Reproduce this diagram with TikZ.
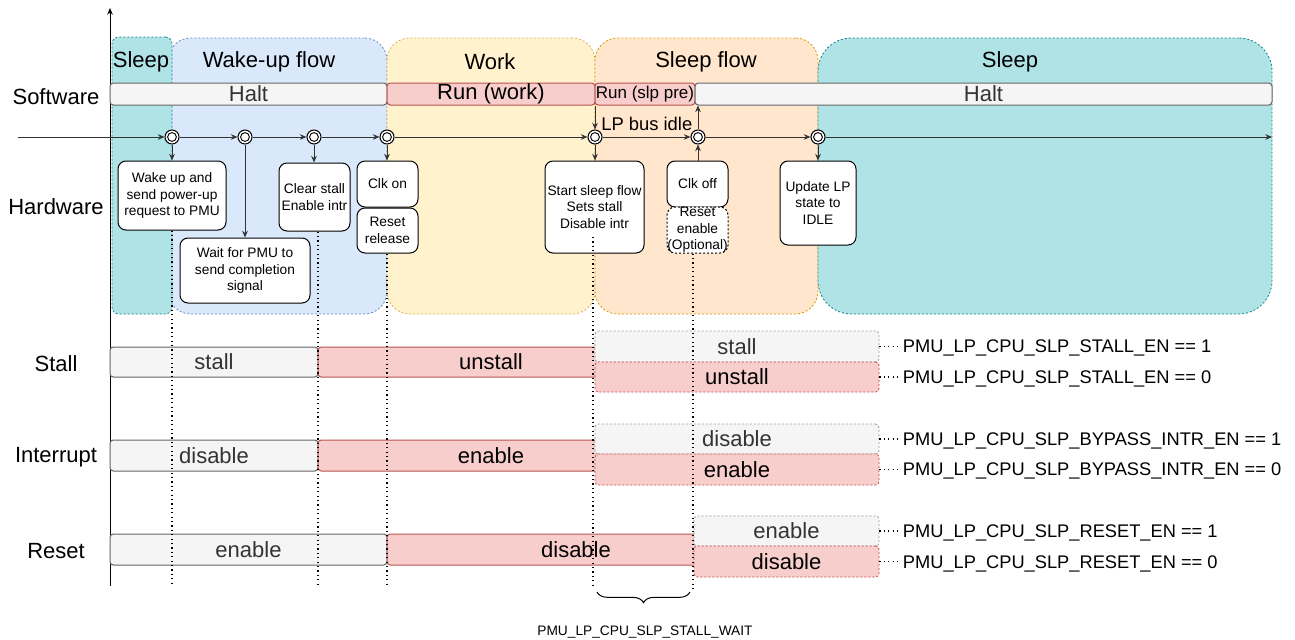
\documentclass[tikz,border=0pt]{standalone}
\usepackage{fontspec}
\setmainfont{Liberation Sans}
\usetikzlibrary{arrows.meta,decorations.pathreplacing}

\definecolor{tealfill}{HTML}{B0E3E6}\definecolor{tealline}{HTML}{0E8088}
\definecolor{bluefill}{HTML}{DAE8FC}\definecolor{blueline}{HTML}{6C8EBF}
\definecolor{yelfill}{HTML}{FFF2CC}\definecolor{yelline}{HTML}{D6B656}
\definecolor{orafill}{HTML}{FFE6CC}\definecolor{oraline}{HTML}{D79B00}
\definecolor{grayfill}{HTML}{F5F5F5}\definecolor{grayline}{HTML}{666666}\definecolor{graytext}{HTML}{333333}
\definecolor{redfill}{HTML}{F8CECC}\definecolor{redline}{HTML}{B85450}

\begin{document}
\begin{tikzpicture}[x=0.75pt, y=-0.75pt, >={Stealth[length=5pt,width=4.2pt]},
	every node/.style={inner sep=0pt},
	span/.style n args={4}{minimum width={(#3-#1)*0.75pt}, minimum height={(#4-#2)*0.75pt},
		at={({(#1+#3)/2},{(#2+#4)/2})}},
	big/.style={font=\fontsize{16.5}{19}\selectfont},
	phase/.style={draw, dash pattern=on 1.5pt off 1.5pt, line width=0.6pt, rounded corners=17pt},
	bar/.style={draw, line width=0.75pt, rounded corners=2.5pt, font=\fontsize{16.5}{19}\selectfont},
	opt/.style={bar, dash pattern=on 1.5pt off 1.5pt, line width=0.6pt},
	greybar/.style={fill=grayfill, draw=grayline, text=graytext},
	redbar/.style={fill=redfill, draw=redline},
	hw/.style={draw, fill=white, line width=0.75pt, rounded corners=6pt, align=center, font=\fontsize{10.3}{12.5}\selectfont},
	evt/.style={circle, draw, fill=white, minimum size=10.5pt, line width=0.8pt,
		path picture={\draw[line width=0.7pt] (path picture bounding box.center) circle (3.3pt);}},
	flow/.style={->, draw=black!80, line width=0.75pt},
	guide/.style={draw=black, line width=0.9pt, dash pattern=on 0.9pt off 2.4pt},
	reg/.style={anchor=base west, inner sep=2pt, font=\fontsize{13.7}{16}\selectfont}]
	\useasboundingbox (0,0) rectangle (1295,639);

	% phases
	\node[phase, span={168}{38}{387}{314}, fill=bluefill, draw=blueline] (wake) {};
	\node[phase, span={387}{38}{595}{314}, fill=yelfill, draw=yelline] (work) {};
	\node[phase, span={595}{38}{818}{314}, fill=orafill, draw=oraline] (slpflow) {};
	\node[phase, span={818}{38}{1272}{314}, fill=tealfill, draw=tealline, rounded corners=25pt] (sleepR) {};
	\node[phase, span={112}{37}{172}{314}, fill=tealfill, draw=tealline, rounded corners=5pt] (sleepL) {};
	\node[big] (tSleepL) at (141,62) {Sleep};
	\node[big] (tWake) at (269,62) {Wake-up flow};
	\node[big] (tWork) at (490,62) {Work};
	\node[big] (tSlpFlow) at (706,62) {Sleep flow};
	\node[big] (tSleepR) at (1010,62) {Sleep};

	\node[big] (lSoft) at (56,97) {Software};
	\node[big] (lHard) at (56,207) {Hardware};
	\node[big] (lStall) at (56,364) {Stall};
	\node[big] (lIntr) at (56,457) {Interrupt};
	\node[big] (lReset) at (56,551) {Reset};

	\coordinate (axB) at (110,586);
	\coordinate (axT) at (110,8);
	\draw[->, line width=0.75pt] (axB) -- (axT);

	% software
	\node[bar, span={110}{83}{387}{105}, greybar] (haltL) {Halt};
	\node[bar, span={387}{83}{595}{105}, redbar] (runW) {Run (work)};
	\node[bar, span={595}{83}{695}{105}, redbar, font=\fontsize{12.75}{14}\selectfont] (runS) {Run (slp pre)};
	\node[bar, span={695}{83}{1272}{105}, greybar] (haltR) {Halt};

	% timeline
	\coordinate (tlS) at (18,137);
	\coordinate (tlE) at (1272,137);
	\foreach \n/\x in {1/172,2/245,3/314,4/387,5/595,6/698,7/818}
		\node[evt] (c\n) at (\x,137) {};
	\draw[flow] (tlS) -- (c1);
	\foreach \a/\b in {1/2,2/3,3/4,4/5,5/6,6/7}
		\draw[flow] (c\a) -- (c\b);
	\draw[flow] (c7) -- (tlE);

	% hardware
	\node[hw, span={118}{161}{226}{230}] (hwWake) {Wake up and\\send power-up\\request to PMU};
	\node[hw, span={180}{238}{310}{303}] (hwWait) {Wait for PMU to\\send completion\\signal};
	\node[hw, span={279}{163}{350}{231}] (hwClr) {Clear stall\\Enable intr};
	\node[hw, span={357}{161}{418}{207}] (hwClkOn) {Clk on};
	\node[hw, span={357}{208}{418}{253}] (hwRst) {Reset\\release};
	\node[hw, span={545}{161}{644}{253}] (hwStart) {Start sleep flow\\Sets stall\\Disable intr};
	\node[hw, span={667}{161}{728}{207}] (hwClkOff) {Clk off};
	\node[hw, span={667}{207}{728}{253}, dash pattern=on 1.5pt off 1.5pt] (hwRstEn) {Reset\\enable\\(Optional)};
	\node[hw, span={780}{161}{856}{245}] (hwUpd) {Update LP\\state to\\IDLE};

	\draw[flow] (c1) -- (c1 |- hwWake.north);
	\draw[flow] (c2) -- (c2 |- hwWait.north);
	\draw[flow] (c3) -- (c3 |- hwClr.north);
	\draw[flow] (c4) -- (c4 |- hwClkOn.north);
	\draw[flow] (c5) -- (c5 |- hwStart.north);
	\draw[flow] (c6 |- hwClkOff.north) -- (c6);
	\draw[flow] (c7) -- (c7 |- hwUpd.north);
	\draw[flow] (c5 |- runW.south) -- (c5);
	\draw[flow] (c6) -- (c6 |- haltR.south);
	\node[anchor=west, font=\fontsize{13.8}{15}\selectfont] (lpIdle) at (601,124) {LP bus idle};

	% stall / interrupt / reset
	\node[bar, span={110}{347}{318}{377}, greybar] (stOff) {stall};
	\node[bar, span={318}{347}{664}{377}, redbar] (stOn) {unstall};
	\node[opt, span={595}{331}{879}{362}, greybar, draw=black!40] (stOpt1) {stall};
	\node[opt, span={595}{362}{879}{392}, redbar, draw=redline!80!red] (stOpt0) {unstall};

	\node[bar, span={110}{440}{318}{471}, greybar] (inOff) {disable};
	\node[bar, span={318}{440}{664}{471}, redbar] (inOn) {enable};
	\node[opt, span={595}{424}{879}{454}, greybar, draw=black!40] (inOpt1) {disable};
	\node[opt, span={595}{454}{879}{485}, redbar, draw=redline!80!red] (inOpt0) {enable};

	\node[bar, span={110}{534}{387}{565}, greybar] (rsOn) {enable};
	\node[bar, span={387}{534}{765}{565}, redbar] (rsOff) {disable};
	\node[opt, span={694}{516}{879}{546}, greybar, draw=black!40] (rsOpt1) {enable};
	\node[opt, span={694}{546}{879}{577}, redbar, draw=redline!80!red] (rsOpt0) {disable};

	\node[reg] (rgSt1) at (900,352) {PMU\_LP\_CPU\_SLP\_STALL\_EN == 1};
	\node[reg] (rgSt0) at (900,383) {PMU\_LP\_CPU\_SLP\_STALL\_EN == 0};
	\node[reg] (rgIn1) at (900,445) {PMU\_LP\_CPU\_SLP\_BYPASS\_INTR\_EN == 1};
	\node[reg] (rgIn0) at (900,475) {PMU\_LP\_CPU\_SLP\_BYPASS\_INTR\_EN == 0};
	\node[reg] (rgRs1) at (900,537) {PMU\_LP\_CPU\_SLP\_RESET\_EN == 1};
	\node[reg] (rgRs0) at (900,568) {PMU\_LP\_CPU\_SLP\_RESET\_EN == 0};
	\foreach \o/\r in {stOpt1/rgSt1,stOpt0/rgSt0,inOpt1/rgIn1,inOpt0/rgIn0,rsOpt1/rgRs1,rsOpt0/rgRs0}
		\draw[guide] (\o.east) -- (\o.east -| \r.west);

	% dotted guides
	\coordinate (g1) at (172,586);
	\coordinate (g2) at (318,586);
	\coordinate (g3) at (387,586);
	\coordinate (g4t) at (593,237);
	\coordinate (g4) at (593,588);
	\coordinate (g5) at (693,588);
	\draw[guide] (hwWake.south) -- (g1);
	\draw[guide] (g2 |- hwClr.south) -- (g2);
	\draw[guide] (g3 |- hwRst.south) -- (g3);
	\draw[guide] (g4t) -- (g4);
	\draw[guide] (g5 |- hwRstEn.south) -- (g5);

	\coordinate (brL) at (597,592);
	\coordinate (brR) at (690,592);
	\draw[decorate, decoration={brace, amplitude=8pt}, line width=0.75pt] (brR) -- (brL);
	\node[anchor=base, font=\fontsize{10.3}{12}\selectfont] (stallWait) at (645,635) {PMU\_LP\_CPU\_SLP\_STALL\_WAIT};
\end{tikzpicture}
\end{document}
